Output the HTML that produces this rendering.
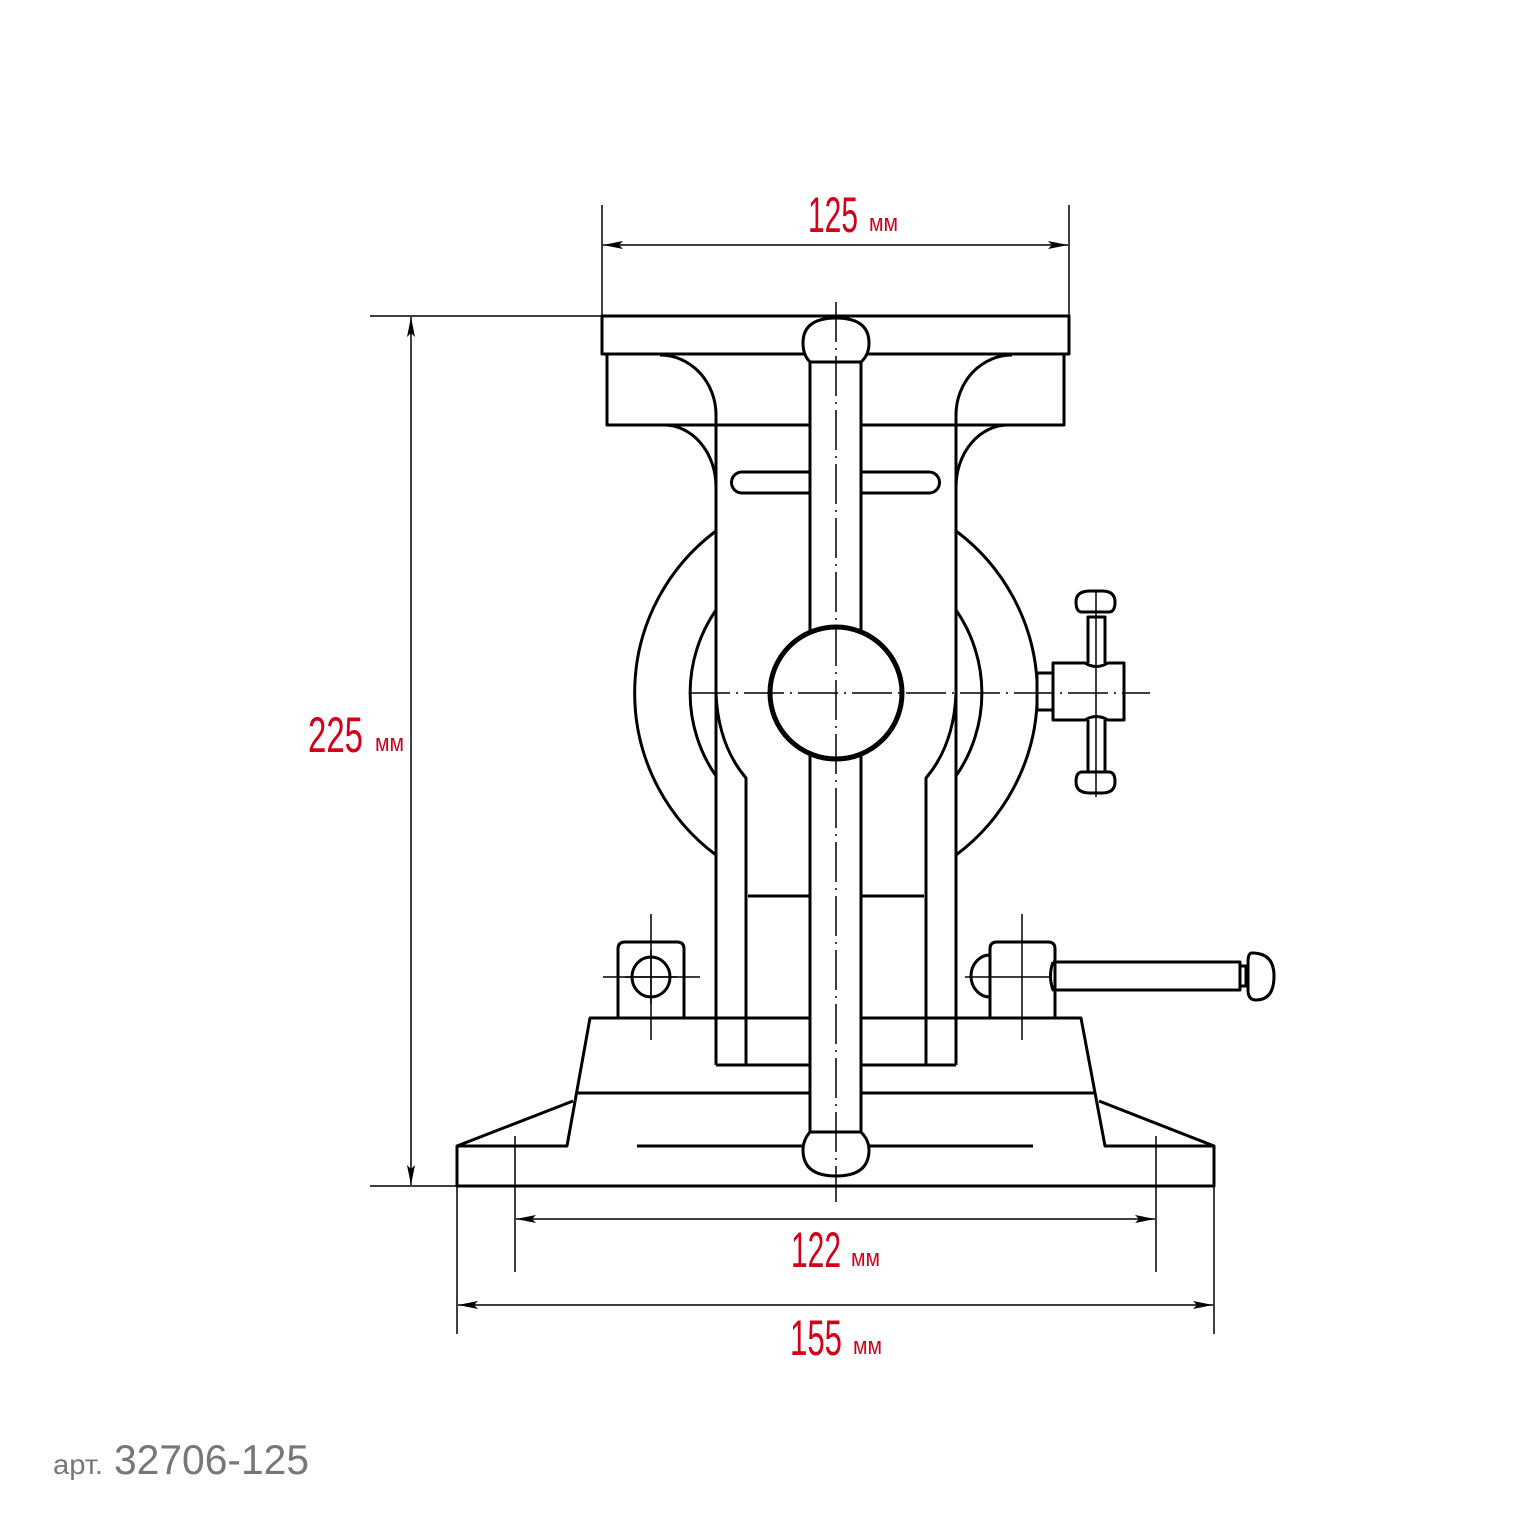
<!DOCTYPE html>
<html><head><meta charset="utf-8"><style>html,body{margin:0;padding:0;background:#fff}svg{display:block}</style></head>
<body>
<svg width="1536" height="1536" viewBox="0 0 1536 1536" xmlns="http://www.w3.org/2000/svg">
<defs>
<marker id="ar" viewBox="0 0 20 10" refX="20" refY="5" markerWidth="20" markerHeight="10" markerUnits="userSpaceOnUse" orient="auto-start-reverse"><path d="M0,1 L20,5 L0,9 L4,5 Z" fill="#000"/></marker>
</defs>
<g fill="none" stroke="#000" stroke-width="1.5">
<line x1="602" y1="205" x2="602" y2="316"/><line x1="1069" y1="205" x2="1069" y2="316"/>
<line x1="603" y1="245" x2="1068" y2="245" marker-start="url(#ar)" marker-end="url(#ar)"/>
<line x1="370" y1="316" x2="602" y2="316"/><line x1="370" y1="1186" x2="457" y2="1186"/>
<line x1="411" y1="317" x2="411" y2="1185" marker-start="url(#ar)" marker-end="url(#ar)"/>
<line x1="515" y1="1136" x2="515" y2="1272"/><line x1="1156" y1="1136" x2="1156" y2="1272"/>
<line x1="516" y1="1219" x2="1155" y2="1219" marker-start="url(#ar)" marker-end="url(#ar)"/>
<line x1="457" y1="1186" x2="457" y2="1334"/><line x1="1214" y1="1186" x2="1214" y2="1334"/>
<line x1="458" y1="1305" x2="1213" y2="1305" marker-start="url(#ar)" marker-end="url(#ar)"/>
<line x1="651" y1="914" x2="651" y2="1040"/><line x1="603" y1="977" x2="700" y2="977"/>
<line x1="1022" y1="914" x2="1022" y2="1040"/><line x1="965" y1="977" x2="1050" y2="977"/>
</g>
<g fill="none" stroke="#000" stroke-width="3" stroke-linejoin="round">
<rect x="602" y="316" width="467" height="38" fill="#fff"/>
<path d="M607,354 V425 H810 M861,425 H1064 V354"/>
<path d="M660,355 A56,60 0 0 1 716,415"/>
<path d="M1012,355 A56,60 0 0 0 956,415"/>
<path d="M664,425 A52,62 0 0 1 716,487"/>
<path d="M1008,425 A52,62 0 0 0 956,487"/>
<!-- base -->
<path d="M590,1018 H1081 L1105,1146 H1214 V1186 H457 V1146 H567 Z"/>
<line x1="577" y1="1093" x2="1095" y2="1093"/>
<path d="M457,1146 L573,1101 M1099,1101 L1214,1146"/>
<line x1="637" y1="1146" x2="1033" y2="1146"/>
<!-- columns -->
<line x1="716" y1="412" x2="716" y2="1065"/>
<line x1="956" y1="412" x2="956" y2="1065"/>
<path d="M716,693 Q718,745 746,778 V1065"/>
<path d="M956,693 Q954,745 926,778 V1065"/>
<path d="M716,1065 H810 M861,1065 H956"/>
<path d="M748,896 H810 M861,896 H924"/>
<path d="M810,472 H742 A10,10 0 0 0 742,493 H810 M861,472 H929 A10,10 0 0 1 929,493 H861"/>
<path d="M716,531 A202,202 0 0 0 716,855"/>
<path d="M956,531 A202,202 0 0 1 956,855"/>
<path d="M716,610 A146,146 0 0 0 716,776"/>
<path d="M956,610 A146,146 0 0 1 956,776"/>
<!-- lugs -->
<path d="M618,1018 V949 Q618,942 625,942 H677 Q684,942 684,949 V1018"/>
<ellipse cx="651" cy="977" rx="19" ry="20"/>
<path d="M990,1018 V949 Q990,942 997,942 H1048 Q1055,942 1055,949 V1018"/>
<path d="M990,955 A19,21 0 0 0 990,997"/>
<path d="M1053,962 H1240 V990 H1053 Q1048,976 1053,962"/>
<path d="M1240,966 H1246 V986 H1240"/>
<path d="M1252,953 Q1274,953 1274,976 Q1274,1000 1256,1000 Q1248,1000 1248,990 V962 Q1248,953 1252,953 Z"/>
<!-- T handle -->
<rect x="1037" y="673" width="16" height="37" fill="#fff"/>
<path d="M1053,663 H1085 Q1096,670 1108,663 H1124 V720 H1108 Q1096,713 1085,720 H1053 Z" fill="#fff"/>
<path d="M1088,663 V617 H1105 V663 M1088,720 V772 H1105 V720"/>
<path d="M1088,612 H1105 M1088,772 H1105"/>
<path d="M1082,612 Q1076,612 1076,602 Q1076,591 1090,591 H1102 Q1115,591 1115,602 Q1115,612 1109,612 Z"/>
<path d="M1082,772 Q1076,772 1076,782 Q1076,793 1090,793 H1102 Q1115,793 1115,782 Q1115,772 1109,772 Z"/>
<!-- screw bar -->
<rect x="810" y="358" width="51" height="778" fill="#fff"/>
<path d="M810,362 Q803,355 803,343 Q803,318 836,318 Q869,318 869,343 Q869,355 861,362 Z" fill="#fff"/>
<path d="M810,1132 H861 Q869,1140 869,1150 Q869,1176 836,1176 Q803,1176 803,1150 Q803,1140 810,1132 Z" fill="#fff"/>
<circle cx="836" cy="693" r="66" stroke-width="5" fill="#fff"/>
</g>
<g fill="none" stroke="#000" stroke-width="1.5">
<line x1="836" y1="302" x2="836" y2="1202" stroke-dasharray="40,6,2,6"/>
<line x1="690" y1="693" x2="1150" y2="693" stroke-dasharray="40,6,2,6"/>
<line x1="1096" y1="590" x2="1096" y2="797"/>
<line x1="651" y1="950" x2="651" y2="1004"/><line x1="625" y1="977" x2="677" y2="977"/>
</g>
<g fill="#d0021b" font-family="'Liberation Sans Narrow','Liberation Sans',sans-serif">
<text x="808" y="232" font-size="50" textLength="50" lengthAdjust="spacingAndGlyphs">125</text>
<text x="869" y="231" font-size="24" textLength="29" lengthAdjust="spacingAndGlyphs">мм</text>
<text x="308" y="752" font-size="50" textLength="55" lengthAdjust="spacingAndGlyphs">225</text>
<text x="375" y="751" font-size="24" textLength="29" lengthAdjust="spacingAndGlyphs">мм</text>
<text x="791" y="1267" font-size="50" textLength="50" lengthAdjust="spacingAndGlyphs">122</text>
<text x="851" y="1266" font-size="24" textLength="29" lengthAdjust="spacingAndGlyphs">мм</text>
<text x="790" y="1355" font-size="50" textLength="52" lengthAdjust="spacingAndGlyphs">155</text>
<text x="853" y="1354" font-size="24" textLength="29" lengthAdjust="spacingAndGlyphs">мм</text>
</g>
<g fill="#777" font-family="'Liberation Sans',sans-serif">
<text x="53" y="1474" font-size="28" textLength="50" lengthAdjust="spacingAndGlyphs">арт.</text>
<text x="114" y="1474" font-size="42" textLength="195" lengthAdjust="spacingAndGlyphs">32706-125</text>
</g>
</svg>
</body></html>
